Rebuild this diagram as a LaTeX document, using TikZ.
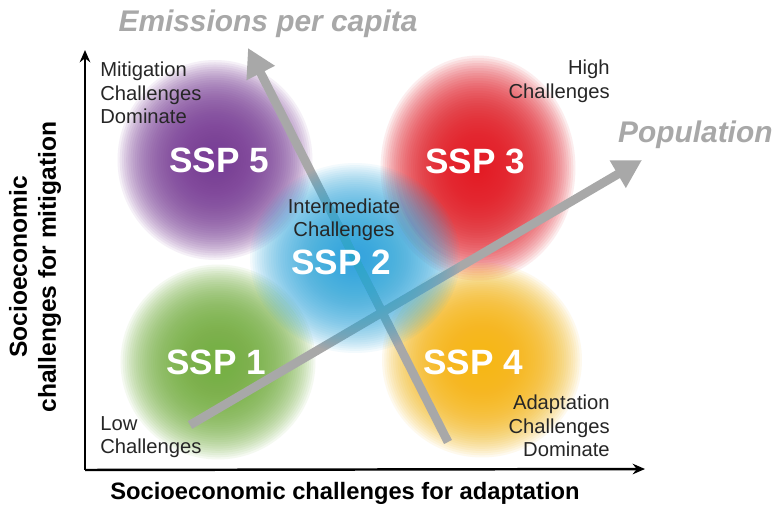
\documentclass[tikz,border=0pt]{standalone}
\usepackage{fontspec}
\setmainfont{Liberation Sans}
\usetikzlibrary{arrows.meta}

\definecolor{sspviolet}{HTML}{7A3D97}
\definecolor{sspred}{HTML}{E31A24}
\definecolor{sspblue}{HTML}{2AA5DD}
\definecolor{sspgreen}{HTML}{77B043}
\definecolor{sspyellow}{HTML}{F6B713}
\definecolor{drivergray}{HTML}{A8A8A8}

% soft patch: a stack of thin, shrinking ellipses
% #1 opacity of one layer, #2 colour, #3 centre, #4 x radius, #5 y radius
\newcommand{\softpatch}[5][.075]{%
  \foreach \k in {1,...,45}{%
    \pgfmathsetmacro{\f}{(46-\k)/45}%
    \fill[#2, opacity=#1] #3 ellipse [x radius=\f*#4, y radius=\f*#5];
  }}

\tikzset{
  corner/.style={font=\fontsize{11.5}{13.3}\selectfont, text=black!85, inner sep=0pt},
  ssp/.style={font=\fontsize{20}{22}\selectfont\bfseries, text=white},
  driver/.style={draw=drivergray, line width=5pt, -{Triangle[length=16pt,width=17pt]}},
  drivertext/.style={font=\fontsize{17}{19}\selectfont\bfseries\itshape, text=drivergray},
  axis/.style={line width=1.4pt, -{Stealth[length=7pt,width=6pt]}},
  axislabel/.style={font=\fontsize{13.5}{16}\selectfont\bfseries},
}

\begin{document}
\begin{tikzpicture}[x=0.02cm, y=-0.02cm]
  \useasboundingbox[fill=white] (0,0) rectangle (772,507);

  % scenario patches
  \softpatch{sspviolet}{(215,160)}{1.95cm}{2cm}
  \softpatch{sspred}{(478,168)}{1.95cm}{2.25cm}
  \softpatch{sspgreen}{(218,362)}{1.95cm}{1.95cm}
  \softpatch{sspyellow}{(482,360)}{2cm}{1.95cm}

  % axes
  \coordinate (origin) at (85,470);
  \coordinate (ytop) at (85,50);
  \coordinate (xend) at (645,469);
  \draw[axis] (origin) -- (ytop);
  \draw[axis] (origin) -- (xend);

  % driving forces
  \coordinate (popstart) at (190,425);
  \coordinate (popend) at (642,160);
  \coordinate (emstart) at (448,442);
  \coordinate (emend) at (248,48);
  \draw[driver] (popstart) -- (popend);
  \draw[driver] (emstart) -- (emend);
  \node[drivertext, anchor=west] (pop) at (612,135) {Population};
  \node[drivertext] (em) at (268,24) {Emissions per capita};

  % middle patch lies over the arrows
  \softpatch[.055]{sspblue}{(355,258)}{2.1cm}{1.9cm}

  % scenario names
  \node[ssp] (ssp5) at (219,160) {SSP 5};
  \node[ssp] (ssp3) at (475,161) {SSP 3};
  \node[ssp] (ssp2) at (341,262) {SSP 2};
  \node[ssp] (ssp1) at (216,362) {SSP 1};
  \node[ssp] (ssp4) at (473,362) {SSP 4};

  % corner captions
  \node[corner, anchor=north west, align=left] (mitig) at (100,62) {Mitigation\\Challenges\\Dominate};
  \node[corner, anchor=north east, align=right] (high) at (610,60) {High\\Challenges};
  \node[corner, align=center] (inter) at (344,220) {Intermediate\\Challenges};
  \node[corner, anchor=south west, align=left] (low) at (100,458) {Low\\Challenges};
  \node[corner, anchor=south east, align=right] (adapt) at (610,457) {Adaptation\\Challenges\\Dominate};

  % axis titles
  \node[axislabel] (xlab) at (345,493) {Socioeconomic challenges for adaptation};
  \node[axislabel, font=\fontsize{14}{16.5}\selectfont\bfseries, rotate=90, align=center] (ylab) at (35,267) {Socioeconomic\\challenges for mitigation};
\end{tikzpicture}
\end{document}
